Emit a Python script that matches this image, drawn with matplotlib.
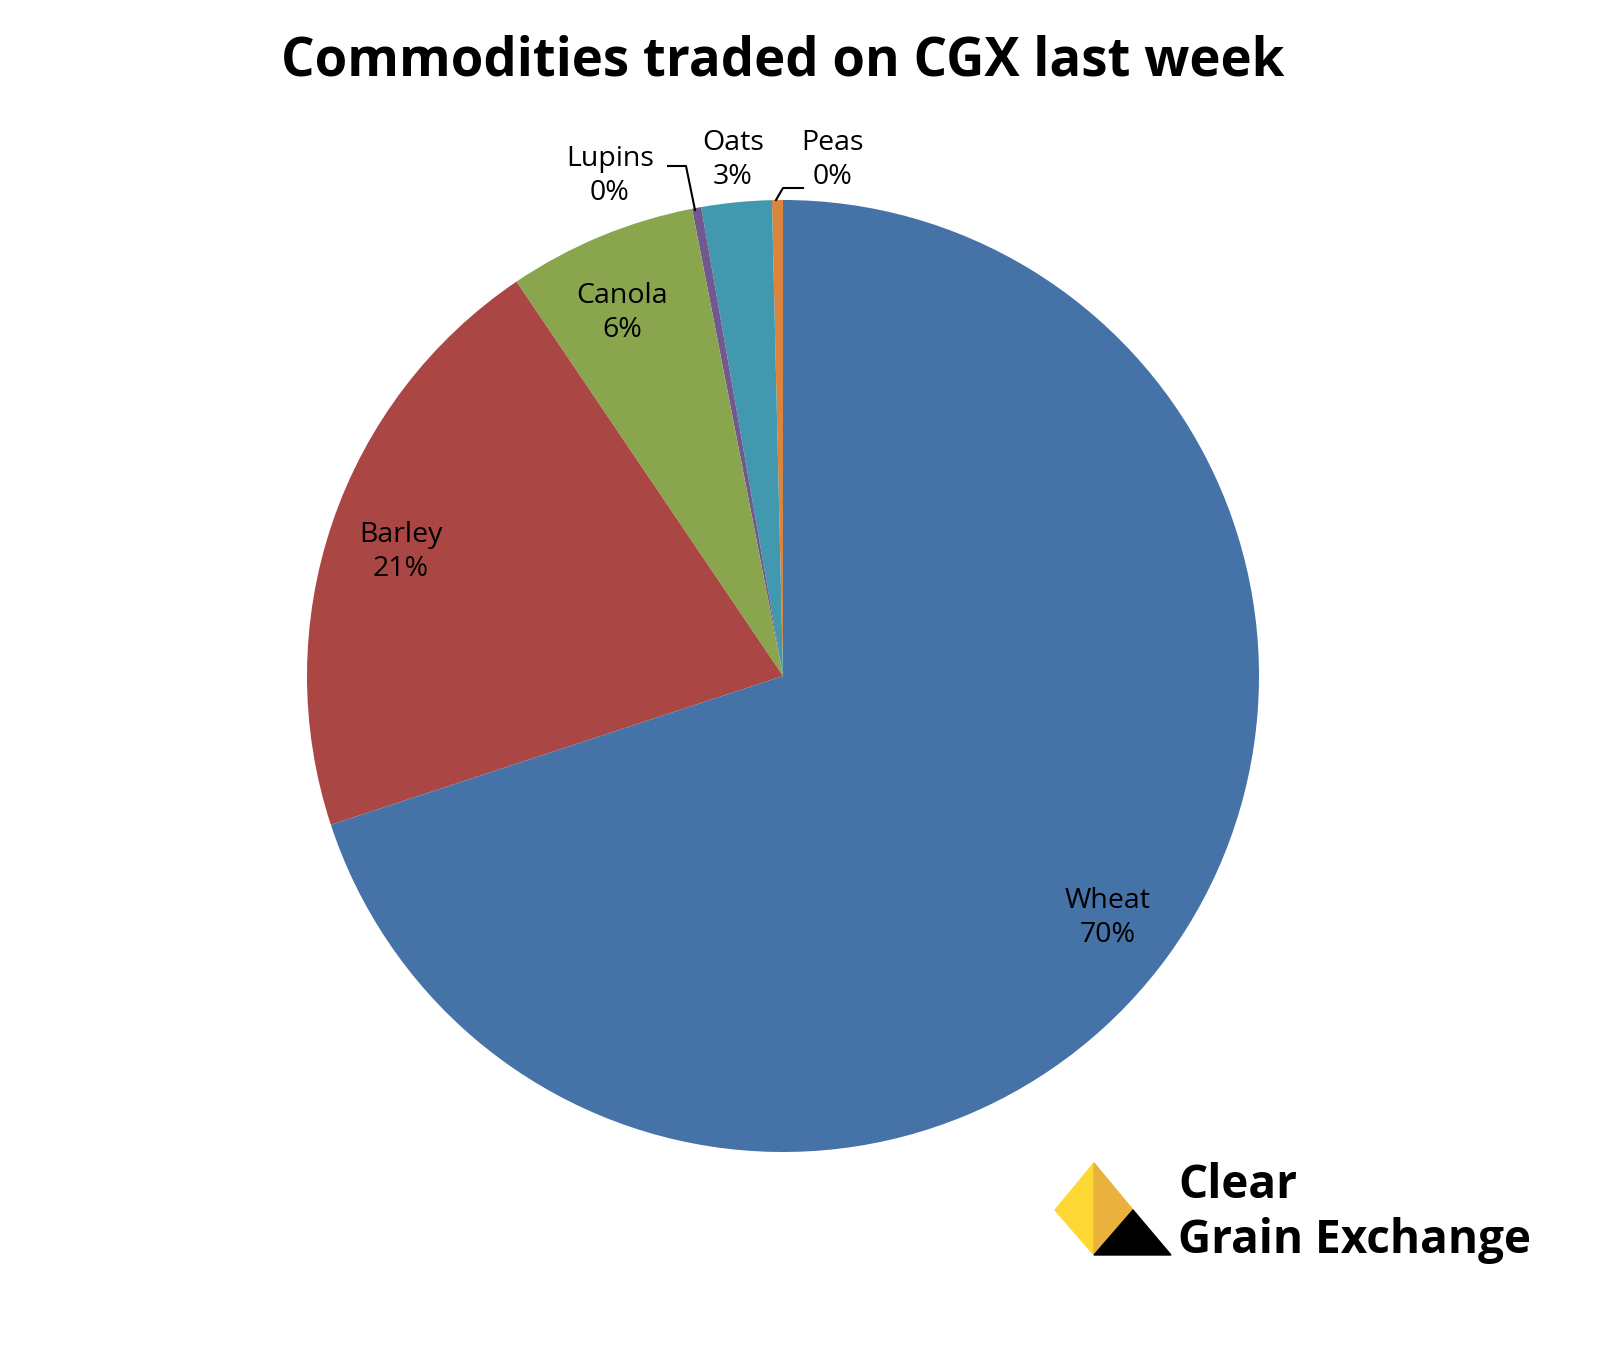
import numpy as np
import matplotlib.pyplot as plt
from matplotlib.patches import Polygon

plt.rcParams['font.family'] = ['Open Sans', 'DejaVu Sans']

# counterclockwise from 12 o'clock
names = ["Peas", "Oats", "Lupins", "Canola", "Barley", "Wheat"]
shares = [0.37, 2.38, 0.31, 6.4, 20.6, 69.94]
pct_labels = ["0%", "3%", "0%", "6%", "21%", "70%"]
colors = ["#DB843D", "#4198AF", "#71588F", "#89A54E", "#AA4643", "#4572A7"]

W, H = 1608, 1351
fig = plt.figure(figsize=(W / 100, H / 100), dpi=100)
cx, cy, r = 783, 676, 476
ax = fig.add_axes([(cx - r) / W, 1 - (cy + r) / H, 2 * r / W, 2 * r / H])
ax.pie(shares, colors=colors, startangle=90, counterclock=True,
       wedgeprops=dict(linewidth=0))
ax.set_xlim(-1, 1); ax.set_ylim(-1, 1); ax.set_aspect('equal')
ax.axis('off')

def d(px, py):
    return (px - cx) / r, (cy - py) / r

label_px = {"Wheat": (1108, 918), "Barley": (401, 552), "Canola": (622, 313),
            "Lupins": (610, 176), "Oats": (733, 160), "Peas": (833, 160)}
for n, p in zip(names, pct_labels):
    x, y = d(*label_px[n])
    ax.text(x, y, f"{n}\n{p}", ha='center', va='center', fontsize=20.5,
            linespacing=1.3, clip_on=False)

for pts in [[(668, 166), (686, 166), (695, 210)], [(803, 188), (783, 188), (776, 200)]]:
    xs, ys = zip(*[d(*p) for p in pts])
    ax.plot(xs, ys, color='black', lw=1.5, clip_on=False)

fig.text(0.487, 1 - 62 / H, "Commodities traded on CGX last week", ha='center',
         va='center', fontsize=38, fontweight='bold')

# logo
def fc(px, py):
    return (px / W, 1 - py / H)
for pts, c in [([(1094, 1163), (1055, 1210), (1094, 1255)], "#FDD835"),
               ([(1094, 1163), (1133, 1210), (1094, 1255)], "#E8B23C"),
               ([(1094, 1255), (1133, 1210), (1171, 1255)], "black")]:
    fig.patches.append(Polygon([fc(*p) for p in pts], closed=True, color=c,
                               transform=fig.transFigure))
fig.text(*fc(1178, 1185), "Clear", fontsize=33, fontweight='bold', va='center')
fig.text(*fc(1178, 1240), "Grain Exchange", fontsize=33, fontweight='bold',
         va='center')

fig.savefig("out.png", dpi=100, facecolor='white')
